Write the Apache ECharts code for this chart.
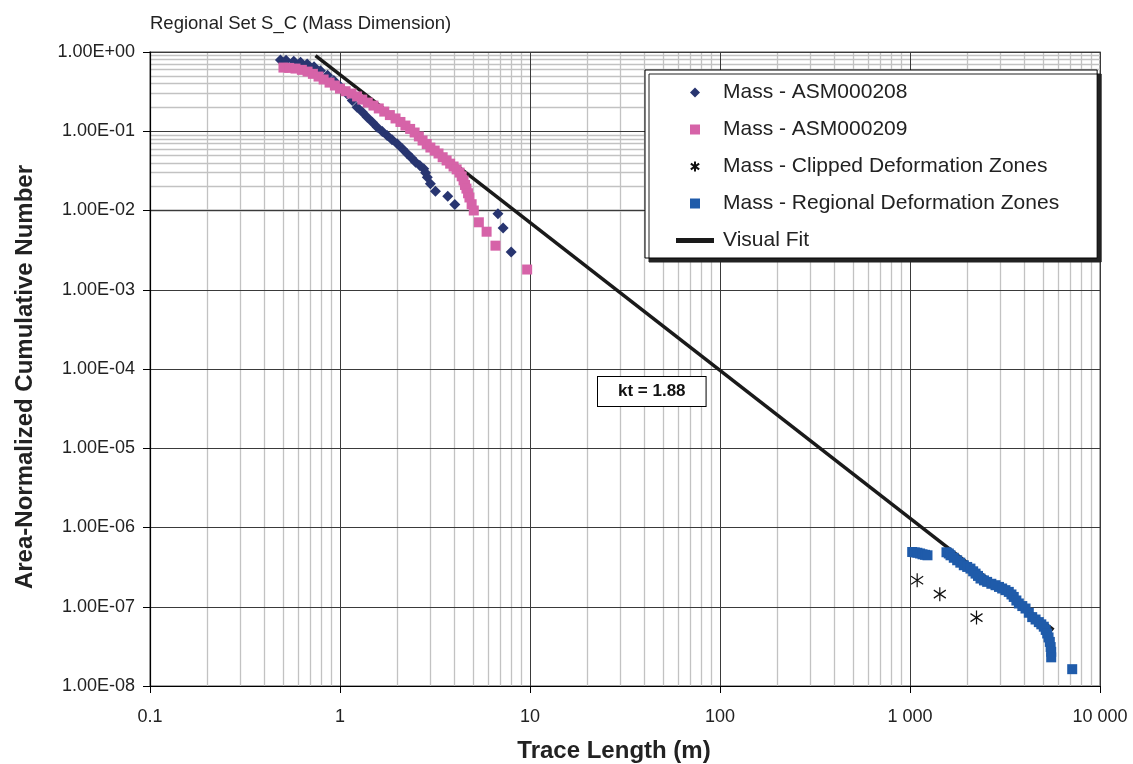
<!DOCTYPE html>
<html>
<head>
<meta charset="utf-8">
<script src="https://cdn.jsdelivr.net/npm/echarts@6/dist/echarts.min.js"></script>
<style>html,body{margin:0;padding:0;background:#fff}#c{width:1133px;height:764px}</style>
</head>
<body>
<div id="c"></div>
<script>
// ---- data ----
const xTickLabels = ['0.1', '1', '10', '100', '1 000', '10 000'];
const asm208 = [
  [0.486, 0.795], [0.52, 0.785], [0.571, 0.763], [0.62, 0.74], [0.672, 0.708], [0.73, 0.65],
  [0.789, 0.582], [0.86, 0.51], [0.928, 0.436], [1.0, 0.37], [1.09, 0.296], [1.16, 0.245],
  [1.23, 0.201], [1.31, 0.175], [1.39, 0.150], [1.48, 0.130], [1.57, 0.112], [1.67, 0.099],
  [1.77, 0.0883], [1.88, 0.078], [2.0, 0.0693], [2.13, 0.060], [2.26, 0.0519], [2.38, 0.046],
  [2.50, 0.0407], [2.63, 0.037], [2.76, 0.0336], [2.82, 0.030], [2.88, 0.0263], [2.99, 0.0217],
  [3.18, 0.0175], [3.69, 0.0151], [4.02, 0.0119], [6.78, 0.0091], [7.22, 0.0060], [7.96, 0.0030]
];
const asm209 = [
  [0.504, 0.636], [0.54, 0.63], [0.583, 0.618], [0.63, 0.595], [0.675, 0.566], [0.72, 0.53],
  [0.771, 0.49], [0.82, 0.45], [0.881, 0.411], [0.94, 0.378], [1.0, 0.345], [1.07, 0.32],
  [1.15, 0.299], [1.23, 0.275], [1.31, 0.251], [1.40, 0.23], [1.50, 0.211], [1.60, 0.194],
  [1.71, 0.177], [1.83, 0.16], [1.96, 0.145], [2.08, 0.131], [2.21, 0.118], [2.34, 0.107],
  [2.47, 0.0964], [2.60, 0.086], [2.72, 0.0764], [2.86, 0.069], [2.99, 0.0623], [3.15, 0.057],
  [3.30, 0.0524], [3.47, 0.047], [3.64, 0.0428], [3.80, 0.039], [3.96, 0.0359], [4.11, 0.033],
  [4.26, 0.0301], [4.37, 0.027], [4.47, 0.0239], [4.55, 0.021], [4.63, 0.0189], [4.72, 0.0165],
  [4.80, 0.0146], [4.93, 0.012], [5.06, 0.0100], [5.38, 0.0071], [5.91, 0.0054], [6.58, 0.0036],
  [9.66, 0.0018]
];
const clippedDZ = [[1091, 2.16e-7], [1435, 1.44e-7], [2239, 7.3e-8]];
const regionalDZ = [
  [1027, 4.91e-7], [1060, 4.85e-7], [1094, 4.8e-7], [1130, 4.7e-7], [1164, 4.59e-7], [1200, 4.52e-7],
  [1236, 4.46e-7], [1556, 4.87e-7], [1600, 4.7e-7], [1634, 4.46e-7], [1700, 4.15e-7], [1771, 3.86e-7],
  [1840, 3.6e-7], [1919, 3.34e-7], [2000, 3.18e-7], [2080, 3.03e-7], [2150, 2.8e-7], [2213, 2.62e-7],
  [2280, 2.45e-7], [2350, 2.27e-7], [2450, 2.15e-7], [2547, 2.06e-7], [2680, 1.95e-7], [2818, 1.87e-7],
  [2940, 1.78e-7], [3055, 1.7e-7], [3180, 1.62e-7], [3311, 1.54e-7], [3420, 1.43e-7], [3516, 1.33e-7],
  [3630, 1.2e-7], [3740, 1.10e-7], [3900, 1.02e-7], [4055, 9.5e-8], [4220, 8.4e-8], [4397, 7.4e-8],
  [4580, 6.9e-8], [4764, 6.4e-8], [4910, 6.0e-8], [5060, 5.6e-8], [5180, 5.1e-8], [5273, 4.6e-8],
  [5360, 4.1e-8], [5445, 3.6e-8], [5500, 3.1e-8], [5535, 2.7e-8], [5535, 2.3e-8], [7140, 1.63e-8]
];
const visualFit = [[0.743, 0.90], [5690, 5.1e-8]];
const ktLabel = 'kt = 1.88';

// ---- minor grid line positions (2..9 x 10^k) ----
const minorX = [], minorY = [];
for (let k = -1; k <= 3; k++) for (let m = 2; m <= 9; m++) minorX.push({ xAxis: m * Math.pow(10, k) });
for (let k = -8; k <= -1; k++) for (let m = 2; m <= 9; m++) minorY.push({ yAxis: m * Math.pow(10, k) });

function fmtY(v) {
  const e = Math.round(Math.log10(v));
  const a = Math.abs(e);
  return '1.00E' + (e < 0 ? '-' : '+') + (a < 10 ? '0' : '') + a;
}
function fmtX(v) {
  const i = Math.round(Math.log10(v)) + 1;
  return xTickLabels[i] !== undefined ? xTickLabels[i] : '';
}

const FONT = 'Liberation Sans, Arial, Helvetica, sans-serif';
const ICON_DIAMOND = 'path://M5,0L10,5L5,10L0,5Z';
const ICON_SQUARE = 'path://M0,0H10V10H0Z';
const ICON_AST = 'path://M5,0L5,12M0,2.5L10,9.5M0,9.5L10,2.5';
const ICON_LINE = 'path://M0,0H38V5H0Z';

const chart = echarts.init(document.getElementById('c'), null, { renderer: 'canvas' });
chart.setOption({
  animation: false,
  backgroundColor: '#fff',
  textStyle: { fontFamily: FONT },
  title: {
    text: 'Regional Set S_C (Mass Dimension)',
    left: 145, top: 9,
    textStyle: { fontSize: 18.5, fontWeight: 'normal', color: '#222', fontFamily: FONT }
  },
  grid: {
    left: 150, right: 33, top: 52, bottom: 78, containLabel: false, outerBoundsMode: 'none',
    show: true, borderColor: '#8a8a8a', borderWidth: 1.5
  },
  xAxis: {
    type: 'log', logBase: 10, min: 0.1, max: 10000, z: 1,
    name: 'Trace Length (m)', nameLocation: 'middle', nameGap: 53,
    nameTextStyle: { fontSize: 24, fontWeight: 'bold', color: '#222', fontFamily: FONT, padding: [0, 22, 0, 0] },
    axisLine: { lineStyle: { color: '#000', width: 1.2 } },
    axisTick: { show: true, length: 7, lineStyle: { color: '#000' } },
    minorTick: { show: false },
    axisLabel: { formatter: fmtX, fontSize: 18, color: '#222', margin: 22, fontFamily: FONT },
    splitLine: { show: true, lineStyle: { color: '#3a3a3a', width: 1 } }
  },
  yAxis: {
    type: 'log', logBase: 10, min: 1e-8, max: 1, interval: 1, z: 1,
    name: 'Area-Normalized Cumulative Number', nameLocation: 'middle', nameGap: 113,
    nameTextStyle: { fontSize: 24, fontWeight: 'bold', color: '#222', fontFamily: FONT, padding: [0, 16, 0, 0] },
    axisLine: { lineStyle: { color: '#000', width: 1.2 } },
    axisTick: { show: true, length: 7, lineStyle: { color: '#000' } },
    axisLabel: { formatter: fmtY, fontSize: 18, color: '#222', margin: 15, fontFamily: FONT },
    splitLine: { show: true, lineStyle: { color: '#3a3a3a', width: 1 } }
  },
  legend: {
    orient: 'vertical', left: 645, top: 70,
    padding: [12, 38, 7, 31],
    itemWidth: 38, itemHeight: 10, itemGap: 16,
    symbolKeepAspect: true,
    backgroundColor: '#fff', borderColor: '#000', borderWidth: 1,
    shadowColor: '#222', shadowBlur: 0, shadowOffsetX: 4, shadowOffsetY: 4,
    textStyle: { fontSize: 21, lineHeight: 20, color: '#222', fontFamily: FONT, padding: [0, 0, 0, 4] },
    data: [
      { name: 'Mass - ASM000208', icon: ICON_DIAMOND },
      { name: 'Mass - ASM000209', icon: ICON_SQUARE },
      { name: 'Mass - Clipped Deformation Zones', icon: ICON_AST },
      { name: 'Mass - Regional Deformation Zones', icon: ICON_SQUARE },
      { name: 'Visual Fit', icon: ICON_LINE }
    ]
  },
  graphic: [{
    type: 'text', left: 597, top: 376, z: 10,
    style: {
      text: ktLabel, font: 'bold 17px ' + FONT, fill: '#111',
      backgroundColor: '#fff', borderColor: '#000', borderWidth: 1,
      padding: [6, 20, 6, 20]
    }
  }],
  series: [
    {
      name: 'Visual Fit', type: 'line', data: visualFit, symbol: 'none', z: 2,
      lineStyle: { color: '#1a1a1a', width: 3.5 }, itemStyle: { color: '#1a1a1a' },
      markLine: {
        silent: true, z: 0, symbol: ['none', 'none'], label: { show: false },
        lineStyle: { color: '#c2c2c2', width: 1.3, type: 'solid' },
        emphasis: { disabled: true },
        data: minorX.concat(minorY)
      }
    },
    {
      name: 'Mass - ASM000208', type: 'scatter', data: asm208, symbol: 'diamond', symbolSize: 11, z: 3,
      itemStyle: { color: '#283570', opacity: 1 }
    },
    {
      name: 'Mass - ASM000209', type: 'scatter', data: asm209, symbol: 'rect', symbolSize: 10, z: 4,
      itemStyle: { color: '#D663A8', opacity: 1 }
    },
    {
      name: 'Mass - Clipped Deformation Zones', type: 'scatter', data: clippedDZ, z: 5,
      symbol: 'path://M5,0L5,14M0,3L10,11M0,11L10,3', symbolSize: [12, 14],
      itemStyle: { color: 'none', borderColor: '#111', borderWidth: 1.3, opacity: 1 }
    },
    {
      name: 'Mass - Regional Deformation Zones', type: 'scatter', data: regionalDZ, symbol: 'rect', symbolSize: 10, z: 6,
      itemStyle: { color: '#1F5BAA', opacity: 1 }
    }
  ]
});
</script>
</body>
</html>
